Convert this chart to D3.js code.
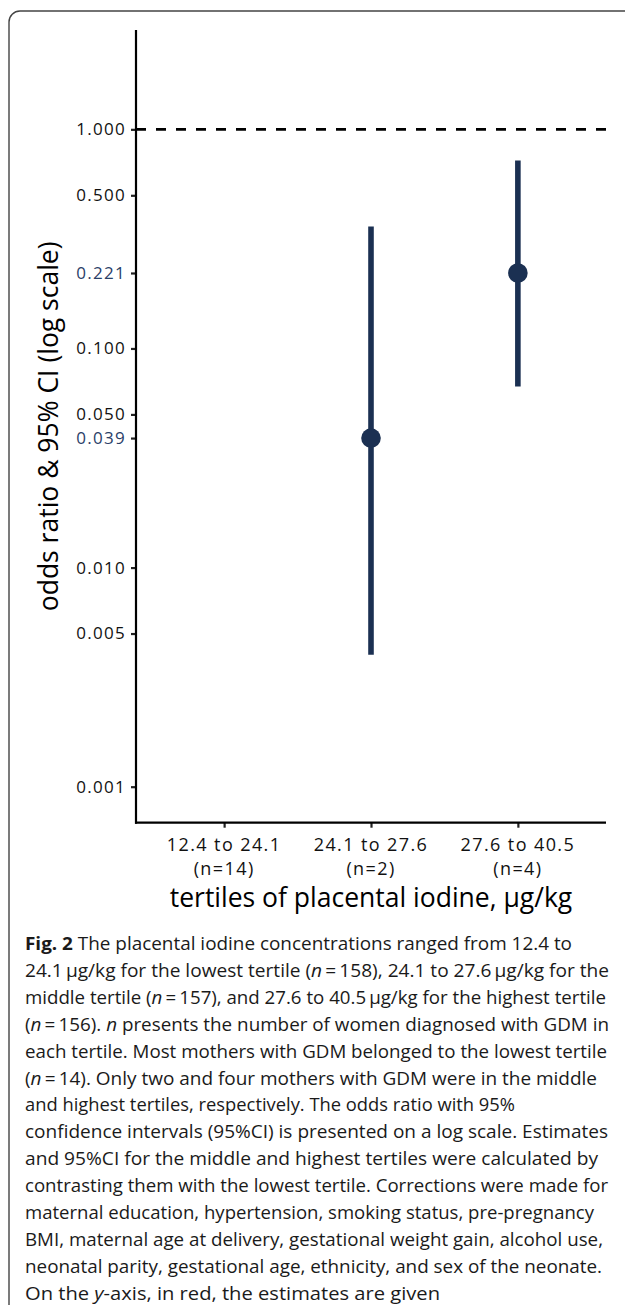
<!DOCTYPE html>
<html>
<head>
<meta charset="utf-8">
<script src="https://cdn.jsdelivr.net/npm/d3@7"></script>
<style>
  html, body { margin: 0; padding: 0; background: #fff; }
  svg { display: block; }
</style>
</head>
<body>
<svg id="chart" width="625" height="1305"></svg>
<script>
// ---- data ----
const categories = ["12.4 to 24.1", "24.1 to 27.6", "27.6 to 40.5"];
const nLabels = ["(n=14)", "(n=2)", "(n=4)"];
const estimates = [null, 0.039, 0.221];
const ciLower = [null, 0.004, 0.067];
const ciUpper = [null, 0.36, 0.72];
const yTicks = [0.001, 0.005, 0.010, 0.039, 0.050, 0.100, 0.221, 0.500, 1.000];
const highlightTicks = [0.039, 0.221];
const refValue = 1;
const yDomain = [0.000685, 2.84];

const captionLines = [
  [["b", "Fig. 2"], ["", " The placental iodine concentrations ranged from 12.4 to"]],
  [["", "24.1\u2009\u00b5g/kg for the lowest tertile ("], ["i", "n"], ["", "\u2009=\u2009158), 24.1 to 27.6\u2009\u00b5g/kg for the"]],
  [["", "middle tertile ("], ["i", "n"], ["", "\u2009=\u2009157), and 27.6 to 40.5\u2009\u00b5g/kg for the highest tertile"]],
  [["", "("], ["i", "n"], ["", "\u2009=\u2009156). "], ["i", "n"], ["", " presents the number of women diagnosed with GDM in"]],
  [["", "each tertile. Most mothers with GDM belonged to the lowest tertile"]],
  [["", "("], ["i", "n"], ["", "\u2009=\u200914). Only two and four mothers with GDM were in the middle"]],
  [["", "and highest tertiles, respectively. The odds ratio with 95%"]],
  [["", "confidence intervals (95%CI) is presented on a log scale. Estimates"]],
  [["", "and 95%CI for the middle and highest tertiles were calculated by"]],
  [["", "contrasting them with the lowest tertile. Corrections were made for"]],
  [["", "maternal education, hypertension, smoking status, pre-pregnancy"]],
  [["", "BMI, maternal age at delivery, gestational weight gain, alcohol use,"]],
  [["", "neonatal parity, gestational age, ethnicity, and sex of the neonate."]],
  [["", "On the "], ["i", "y"], ["", "-axis, in red, the estimates are given"]]
];
const captionRight = [572, 609, 606, 609, 607, 597, 515, 608, 598, 608, 594, 603, 602, 440];

// ---- layout ----
const svg = d3.select("#chart");
const panel = { left: 136, right: 606, top: 30, bottom: 822.7 };
const navy = "#1b3052";
const font = "'Open Sans', sans-serif";

// frame
svg.append("rect")
  .attr("x", 9).attr("y", 11).attr("width", 700).attr("height", 1400)
  .attr("rx", 11).attr("ry", 11)
  .attr("fill", "none").attr("stroke", "#444").attr("stroke-width", 1.4);

const x = d3.scalePoint().domain(categories).range([panel.left, panel.right]).padding(0.6);
const y = d3.scaleLog().domain(yDomain).range([panel.bottom, panel.top]);

// reference line
svg.append("line")
  .attr("x1", panel.left).attr("x2", panel.right + 3)
  .attr("y1", y(refValue)).attr("y2", y(refValue))
  .attr("stroke", "#000").attr("stroke-width", 2.6)
  .attr("stroke-dasharray", "10,10");

// y axis
const yAxis = svg.append("g")
  .attr("transform", `translate(${panel.left},0)`)
  .call(d3.axisLeft(y).tickValues(yTicks).tickFormat(d3.format(".3f")).tickSize(5).tickSizeOuter(0).tickPadding(5));
yAxis.select(".domain").remove();
yAxis.selectAll(".tick line").attr("stroke", "#222").attr("stroke-width", 2.2);
yAxis.selectAll(".tick text")
  .attr("font-family", font).attr("font-size", 17).attr("letter-spacing", "1.3px")
  .attr("fill", d => highlightTicks.includes(d) ? "#2a4068" : "#111");

// x axis
const xAxis = svg.append("g")
  .attr("transform", `translate(0,${panel.bottom})`)
  .call(d3.axisBottom(x).tickSize(5).tickSizeOuter(0).tickFormat(""));
xAxis.select(".domain").remove();
xAxis.selectAll(".tick line").attr("stroke", "#222").attr("stroke-width", 2.2);

// axis lines
svg.append("line").attr("x1", panel.left).attr("x2", panel.left)
  .attr("y1", panel.top).attr("y2", panel.bottom + 1)
  .attr("stroke", "#000").attr("stroke-width", 2.2);
svg.append("line").attr("x1", panel.left - 1).attr("x2", panel.right)
  .attr("y1", panel.bottom).attr("y2", panel.bottom)
  .attr("stroke", "#000").attr("stroke-width", 2.2);

// x tick labels
const xl = svg.append("g");
categories.forEach((c, i) => {
  const t = xl.append("text")
    .attr("x", x(c)).attr("y", panel.bottom + 28)
    .attr("text-anchor", "middle")
    .attr("font-family", font).attr("font-size", 18).attr("letter-spacing", "1.4px")
    .attr("fill", "#111");
  t.append("tspan").attr("x", x(c)).text(c);
  t.append("tspan").attr("x", x(c)).attr("dy", 24).text(nLabels[i]);
});

// axis titles
svg.append("text")
  .attr("x", (panel.left + panel.right) / 2).attr("y", 907)
  .attr("text-anchor", "middle")
  .attr("font-family", font).attr("font-size", 26.5).attr("fill", "#000")
  .text("tertiles of placental iodine, \u00b5g/kg");
svg.append("text")
  .attr("transform", `translate(58,${(panel.top + panel.bottom) / 2}) rotate(-90)`)
  .attr("text-anchor", "middle")
  .attr("font-family", font).attr("font-size", 26.5).attr("fill", "#000")
  .text("odds ratio & 95% CI (log scale)");

// error bars and points
const rows = categories.map((c, i) => ({ c, est: estimates[i], lo: ciLower[i], hi: ciUpper[i] }))
  .filter(d => d.est !== null);
svg.append("g").selectAll("line").data(rows).join("line")
  .attr("x1", d => x(d.c)).attr("x2", d => x(d.c))
  .attr("y1", d => y(d.lo)).attr("y2", d => y(d.hi))
  .attr("stroke", navy).attr("stroke-width", 5.6);
svg.append("g").selectAll("circle").data(rows).join("circle")
  .attr("cx", d => x(d.c)).attr("cy", d => y(d.est)).attr("r", 9.8)
  .attr("fill", navy);

// caption
const cap = svg.append("g");
captionLines.forEach((parts, i) => {
  const t = cap.append("text")
    .attr("x", 25).attr("y", 950 + i * 26.9)
    .attr("font-family", font).attr("font-size", 18.5).attr("fill", "#1a1a1a")
    .attr("textLength", captionRight[i] - 25)
    .attr("lengthAdjust", "spacingAndGlyphs");
  parts.forEach(([style, txt]) => {
    const s = t.append("tspan").text(txt);
    if (style === "b") s.attr("font-weight", "bold");
    if (style === "i") s.attr("font-style", "italic");
  });
});
</script>
</body>
</html>
